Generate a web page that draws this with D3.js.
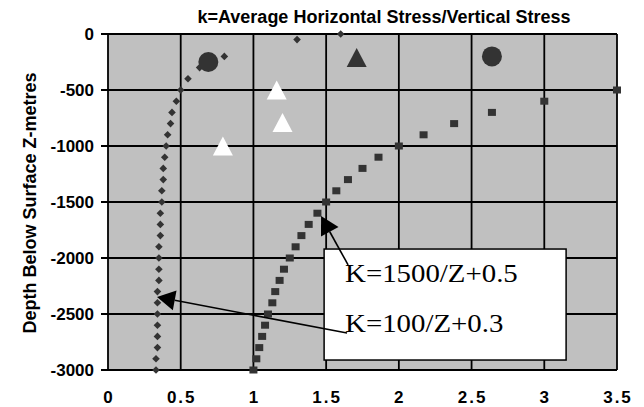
<!DOCTYPE html>
<html>
<head>
<meta charset="utf-8">
<script src="https://cdn.jsdelivr.net/npm/d3@7"></script>
<style>
  body { margin: 0; background: #fff; overflow: hidden; }
  svg { display: block; }
  .tick-label { font-family: "Liberation Sans", Arial, sans-serif; font-weight: bold; font-size: 17px; fill: #000; }
</style>
</head>
<body>
<div id="chart"></div>
<script>
// axis ticks
const xTicks = [0, 0.5, 1, 1.5, 2, 2.5, 3, 3.5];
const yTicks = [0, -500, -1000, -1500, -2000, -2500, -3000];

// K=100/Z+0.3 series (diamonds)
const k100Depth = [0, -50, -200, -300, -400, -500, -600, -700, -800, -900, -1000,
  -1100, -1200, -1300, -1400, -1500, -1600, -1700, -1800, -1900, -2000,
  -2100, -2200, -2300, -2400, -2500, -2600, -2700, -2800, -2900, -3000];
const k100Value = [1.60, 1.30, 0.80, 0.63, 0.55, 0.50, 0.47, 0.44, 0.43, 0.41, 0.40,
  0.39, 0.38, 0.38, 0.37, 0.37, 0.36, 0.36, 0.36, 0.35, 0.35,
  0.35, 0.35, 0.34, 0.34, 0.34, 0.34, 0.34, 0.34, 0.33, 0.33];

// K=1500/Z+0.5 series (squares)
const k1500Depth = [-500, -600, -700, -800, -900, -1000, -1100, -1200, -1300, -1400, -1500,
  -1600, -1700, -1800, -1900, -2000, -2100, -2200, -2300, -2400, -2500,
  -2600, -2700, -2800, -2900, -3000];
const k1500Value = [3.50, 3.00, 2.64, 2.38, 2.17, 2.00, 1.86, 1.75, 1.65, 1.57, 1.50,
  1.44, 1.38, 1.33, 1.29, 1.25, 1.21, 1.18, 1.15, 1.13, 1.10,
  1.08, 1.06, 1.04, 1.02, 1.00];

// measured points
const circleK = [0.69, 2.64];
const circleDepth = [-250, -200];
const darkTriK = [1.71];
const darkTriDepth = [-210];
const whiteTriK = [1.16, 1.20, 0.79];
const whiteTriDepth = [-500, -790, -1000];

// annotation labels and arrows (data units)
const labelText = ["K=1500/Z+0.5", "K=100/Z+0.3"];
const labelDepth = [-2214, -2661];
const arrowFrom = [[1.651, -2062], [1.644, -2670]];
const arrowTo = [[1.465, -1625], [0.337, -2348]];
const boxK = [1.486, 3.15];
const boxDepth = [-1920, -2911];

const W = 644, H = 407;
const margin = {top: 34, right: 27, bottom: 37, left: 108};

const svg = d3.select("#chart").append("svg")
    .attr("width", W)
    .attr("height", H);

const x = d3.scaleLinear().domain([0, 3.5]).range([margin.left, W - margin.right]);
const y = d3.scaleLinear().domain([0, -3000]).range([margin.top, H - margin.bottom]);

// plot background
svg.append("rect")
    .attr("x", x(0)).attr("y", y(0))
    .attr("width", x(3.5) - x(0)).attr("height", y(-3000) - y(0))
    .attr("fill", "#c0c0c0");

// gridlines
svg.append("g").selectAll("line")
    .data(xTicks)
    .join("line")
    .attr("x1", d => x(d)).attr("x2", d => x(d))
    .attr("y1", y(0)).attr("y2", y(-3000))
    .attr("stroke", "#000").attr("stroke-width", 1.8);

svg.append("g").selectAll("line")
    .data(yTicks)
    .join("line")
    .attr("x1", x(0) - 7).attr("x2", x(3.5))
    .attr("y1", d => y(d)).attr("y2", d => y(d))
    .attr("stroke", "#000").attr("stroke-width", 1.8);

// tick labels
svg.append("g").selectAll("text")
    .data(yTicks)
    .join("text")
    .attr("class", "tick-label")
    .attr("x", x(0) - 14)
    .attr("y", d => y(d))
    .attr("dy", "0.35em")
    .attr("text-anchor", "end")
    .text(d => String(d));

svg.append("g").selectAll("text")
    .data(xTicks)
    .join("text")
    .attr("class", "tick-label")
    .attr("x", d => x(d) + 1)
    .attr("y", y(-3000) + 33)
    .attr("text-anchor", "middle")
    .attr("letter-spacing", 2)
    .text(d => d);

// title
svg.append("text")
    .attr("x", 384).attr("y", 23)
    .attr("text-anchor", "middle")
    .attr("font-family", "Liberation Sans, Arial, sans-serif")
    .attr("font-weight", "bold")
    .attr("font-size", 18)
    .text("k=Average Horizontal Stress/Vertical Stress");

// y axis title
svg.append("text")
    .attr("transform", "translate(36," + (y(-1500) + 1) + ") rotate(-90)")
    .attr("text-anchor", "middle")
    .attr("font-family", "Liberation Sans, Arial, sans-serif")
    .attr("font-weight", "bold")
    .attr("font-size", 18)
    .text("Depth Below Surface Z-metres");

const markColor = "#333333";

// diamonds
svg.append("g").selectAll("path")
    .data(k100Depth.map((z, i) => ({z: z, k: k100Value[i]})))
    .join("path")
    .attr("transform", d => "translate(" + x(d.k) + "," + y(d.z) + ")")
    .attr("d", "M0,-3.8L3.8,0L0,3.8L-3.8,0Z")
    .attr("fill", markColor);

// squares
svg.append("g").selectAll("rect")
    .data(k1500Depth.map((z, i) => ({z: z, k: k1500Value[i]})))
    .join("rect")
    .attr("x", d => x(d.k) - 4)
    .attr("y", d => y(d.z) - 3.5)
    .attr("width", 8).attr("height", 7)
    .attr("fill", markColor);

// big circles
svg.append("g").selectAll("circle")
    .data(circleK.map((k, i) => ({k: k, z: circleDepth[i]})))
    .join("circle")
    .attr("cx", d => x(d.k)).attr("cy", d => y(d.z))
    .attr("r", 10)
    .attr("fill", markColor);

// triangles
const tri = "M0,-9.5L10,9.5L-10,9.5Z";
svg.append("g").selectAll("path")
    .data(darkTriK.map((k, i) => ({k: k, z: darkTriDepth[i]})))
    .join("path")
    .attr("transform", d => "translate(" + x(d.k) + "," + y(d.z) + ")")
    .attr("d", tri)
    .attr("fill", markColor);

svg.append("g").selectAll("path")
    .data(whiteTriK.map((k, i) => ({k: k, z: whiteTriDepth[i]})))
    .join("path")
    .attr("transform", d => "translate(" + x(d.k) + "," + y(d.z) + ")")
    .attr("d", tri)
    .attr("fill", "#fff");

// annotation box
svg.append("rect")
    .attr("x", x(boxK[0])).attr("y", y(boxDepth[0]))
    .attr("width", x(boxK[1]) - x(boxK[0]))
    .attr("height", y(boxDepth[1]) - y(boxDepth[0]))
    .attr("fill", "#fff")
    .attr("stroke", "#000").attr("stroke-width", 1.5);

svg.append("g").selectAll("text")
    .data(labelText)
    .join("text")
    .attr("transform", (d, i) => "translate(" + x(1.63) + "," + y(labelDepth[i]) + ") scale(1.11,1)")
    .attr("font-family", "Liberation Serif, Times New Roman, serif")
    .attr("font-size", 26)
    .text(d => d);

// arrows
arrowFrom.forEach((f, i) => {
    let x1 = x(f[0]), y1 = y(f[1]);
    let x2 = x(arrowTo[i][0]), y2 = y(arrowTo[i][1]);
    let len = Math.hypot(x2 - x1, y2 - y1);
    let ux = (x2 - x1) / len, uy = (y2 - y1) / len;
    let headL = 18, headW = 10;
    let bx = x2 - ux * headL, by = y2 - uy * headL;
    svg.append("line")
        .attr("x1", x1).attr("y1", y1)
        .attr("x2", bx).attr("y2", by)
        .attr("stroke", "#000").attr("stroke-width", 1.6);
    svg.append("path")
        .attr("d", "M" + x2 + "," + y2 +
            "L" + (bx - uy * headW) + "," + (by + ux * headW) +
            "L" + (bx + uy * headW) + "," + (by - ux * headW) + "Z")
        .attr("fill", "#000");
});
</script>
</body>
</html>
